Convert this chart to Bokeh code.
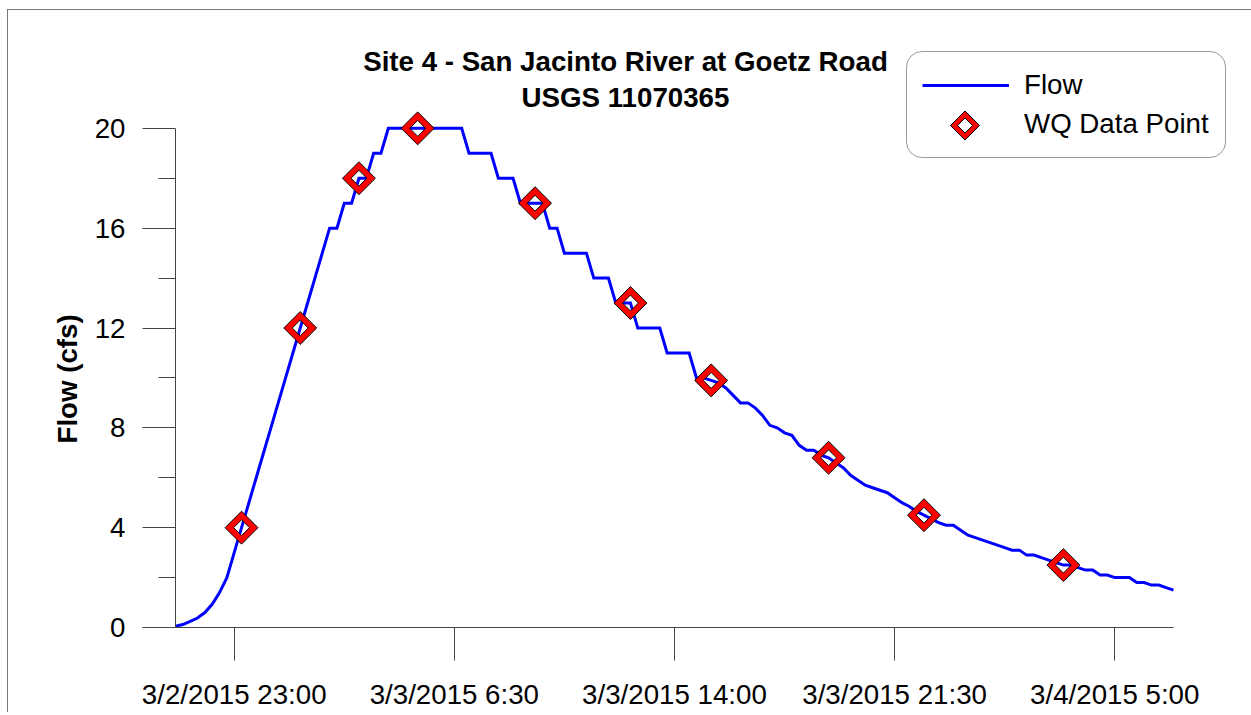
import numpy as np
import pandas as pd
from bokeh.plotting import figure
from bokeh.models import (Range1d, FixedTicker, Legend, LegendItem, Label, Title,
                          ColumnDataSource, PolyAnnotation)
from bokeh.embed import file_html
from bokeh.resources import INLINE

# ---------------- data ----------------
chart_title = "Site 4 - San Jacinto River at Goetz Road"
chart_subtitle = "USGS 11070365"
y_label = "Flow (cfs)"
legend_labels = ["Flow", "WQ Data Point"]

flow_start = "2015-03-02 21:00"
flow_step = "15min"
flow_cfs = [
    0.05, 0.12, 0.25, 0.38, 0.6, 0.93, 1.4, 2.0, 3.0, 4.0,
    5.0, 6.0, 7.0, 8.0, 9.0, 10.0, 11.0, 12.0, 13.0, 14.0,
    15.0, 16.0, 16.0, 17.0, 17.0, 18.0, 18.0, 19.0, 19.0, 20.0,
    20.0, 20.0, 20.0, 20.0, 20.0, 20.0, 20.0, 20.0, 20.0, 20.0,
    19.0, 19.0, 19.0, 19.0, 18.0, 18.0, 18.0, 17.0, 17.0, 17.0,
    17.0, 16.0, 16.0, 15.0, 15.0, 15.0, 15.0, 14.0, 14.0, 14.0,
    13.0, 13.0, 13.0, 12.0, 12.0, 12.0, 12.0, 11.0, 11.0, 11.0,
    11.0, 10.0, 10.0, 9.9, 9.8, 9.6, 9.3, 9.0, 9.0, 8.8,
    8.5, 8.1, 8.0, 7.8, 7.7, 7.3, 7.1, 7.1, 6.9, 6.8,
    6.6, 6.4, 6.1, 5.9, 5.7, 5.6, 5.5, 5.4, 5.2, 5.0,
    4.85, 4.65, 4.5, 4.35, 4.2, 4.1, 4.1, 3.9, 3.7, 3.6,
    3.5, 3.4, 3.3, 3.2, 3.1, 3.1, 2.9, 2.9, 2.8, 2.7,
    2.6, 2.5, 2.5, 2.4, 2.3, 2.3, 2.1, 2.1, 2.0, 2.0,
    2.0, 1.8, 1.8, 1.7, 1.7, 1.6, 1.5,
]

wq_times = [
    "2015-03-02 23:15", "2015-03-03 01:15", "2015-03-03 03:15",
    "2015-03-03 05:15", "2015-03-03 09:15", "2015-03-03 12:30",
    "2015-03-03 15:15", "2015-03-03 19:15", "2015-03-03 22:30",
    "2015-03-04 03:15",
]
wq_cfs = [4.0, 12.0, 18.0, 20.0, 17.0, 13.0, 9.9, 6.8, 4.5, 2.5]

x_start = "2015-03-02 21:00"
x_end = "2015-03-04 07:00"
x_view_end = "2015-03-04 09:15"      # extra room on the right for the legend
x_tick_times = ["2015-03-02 23:00", "2015-03-03 06:30", "2015-03-03 14:00",
                "2015-03-03 21:30", "2015-03-04 05:00"]
x_tick_labels = ["3/2/2015 23:00", "3/3/2015 6:30", "3/3/2015 14:00",
                 "3/3/2015 21:30", "3/4/2015 5:00"]
y_min, y_max, y_view_max = 0, 20, 24
y_major_ticks = [0, 4, 8, 12, 16, 20]
y_minor_ticks = [2, 6, 10, 14, 18]


def to_ms(s):
    return int(pd.Timestamp(s).value // 10**6)


flow_t = [to_ms(t) for t in pd.date_range(flow_start, periods=len(flow_cfs), freq=flow_step)]
wq_t = [to_ms(t) for t in wq_times]
x_ticks = [to_ms(t) for t in x_tick_times]

src_flow = ColumnDataSource(data=dict(t=flow_t, v=flow_cfs))
src_wq = ColumnDataSource(data=dict(t=wq_t, v=wq_cfs))

FONT = "Liberation Sans"
AX = "#444444"
FS = "27.7px"

# frame: x 175..1239, y 28..627 (canvas pixels)
p = figure(width=1251, height=712, x_axis_type="datetime",
           x_range=Range1d(to_ms(x_start), to_ms(x_view_end)),
           y_range=Range1d(y_min, y_view_max),
           output_backend="svg", toolbar_location=None,
           min_border_left=175, min_border_right=12,
           min_border_top=28, min_border_bottom=85,
           outline_line_color=None,
           background_fill_color=None, border_fill_color=None)
p.grid.visible = False
p.styles = {"box-shadow": "inset 7px 9px 0px 0px #ffffff, inset 8px 10px 0px 0px #777777"}

# x axis
xa = p.xaxis[0]
xa.bounds = (to_ms(x_start), to_ms(x_end))
xa.ticker = FixedTicker(ticks=x_ticks, minor_ticks=[])
xa.major_label_overrides = {t: lab for t, lab in zip(x_ticks, x_tick_labels)}
xa.major_tick_out = 33
xa.major_tick_in = 0
xa.minor_tick_out = 0
xa.minor_tick_in = 0
xa.axis_line_color = AX
xa.major_tick_line_color = AX
xa.major_label_standoff = 18
xa.major_label_text_font = FONT
xa.major_label_text_font_size = FS
xa.major_label_text_color = "black"

# y axis
ya = p.yaxis[0]
ya.bounds = (y_min, y_max)
ya.ticker = FixedTicker(ticks=y_major_ticks, minor_ticks=y_minor_ticks)
ya.major_tick_out = 33
ya.major_tick_in = 0
ya.minor_tick_out = 17
ya.minor_tick_in = 0
ya.axis_line_color = AX
ya.major_tick_line_color = AX
ya.minor_tick_line_color = AX
ya.major_label_standoff = 17
ya.major_label_text_font = FONT
ya.major_label_text_font_size = FS
ya.major_label_text_color = "black"

# y-axis title, centred on the 0..20 part of the axis
p.add_layout(Title(text=y_label, align="left", offset=184, standoff=18,
                   text_font=FONT, text_font_size=FS, text_font_style="bold",
                   text_color="black"), "left")

# flow line
r_flow = p.line("t", "v", source=src_flow, line_color="#0000FF",
                line_width=3, line_join="miter")

# WQ data point: red hollow diamond with black edges
r_ring = p.scatter("t", "v", source=src_wq, marker="square", angle=np.pi / 4,
                   size=17.2, fill_color=None, line_color="#FF0000",
                   line_width=5.9, line_join="miter")
r_out = p.scatter("t", "v", source=src_wq, marker="square", angle=np.pi / 4,
                  size=23.3, fill_color=None, line_color="black",
                  line_width=1, line_join="miter")
r_in = p.scatter("t", "v", source=src_wq, marker="square", angle=np.pi / 4,
                 size=11.2, fill_color=None, line_color="black",
                 line_width=1, line_join="miter")
r_proxy = p.scatter("t", "v", source=src_wq, marker="square", size=1,
                    fill_alpha=0, line_alpha=0)

legend = Legend(
    items=[LegendItem(label=legend_labels[0], renderers=[r_flow]),
           LegendItem(label=legend_labels[1], renderers=[r_proxy])],
    location=(731, 469), orientation="vertical",
    glyph_width=87, glyph_height=36, label_height=36, label_width=186,
    label_standoff=15, padding=15, spacing=3, margin=0,
    label_text_font=FONT, label_text_font_size=FS,
    label_text_color="black",
    border_line_color="#333333", border_line_width=1,
    background_fill_color="white", background_fill_alpha=0.0)
if "border_radius" in Legend.properties():
    legend.border_radius = 16
p.add_layout(legend)

# legend diamond symbol (screen units relative to the frame)
cx, cy = 789.5, 502
ro, ri = 14.5, 7.5
poly_outer = PolyAnnotation(xs=[cx, cx + ro, cx, cx - ro], ys=[cy + ro, cy, cy - ro, cy],
                            xs_units="screen", ys_units="screen", level="overlay",
                            fill_color="#FF0000", fill_alpha=1.0,
                            line_color="black", line_width=1, line_alpha=1.0)
poly_inner = PolyAnnotation(xs=[cx, cx + ri, cx, cx - ri], ys=[cy + ri, cy, cy - ri, cy],
                            xs_units="screen", ys_units="screen", level="overlay",
                            fill_color="white", fill_alpha=1.0,
                            line_color="black", line_width=1, line_alpha=1.0)
p.add_layout(poly_outer)
p.add_layout(poly_inner)

# titles
for txt, yy in [(chart_title, 566), (chart_subtitle, 530.5)]:
    p.add_layout(Label(x=450, y=yy, x_units="screen", y_units="screen",
                       text=txt, text_align="center", text_baseline="alphabetic",
                       text_font=FONT, text_font_style="bold",
                       text_font_size=FS, text_color="black"))

open("out.html", "w").write(file_html(p, INLINE))
